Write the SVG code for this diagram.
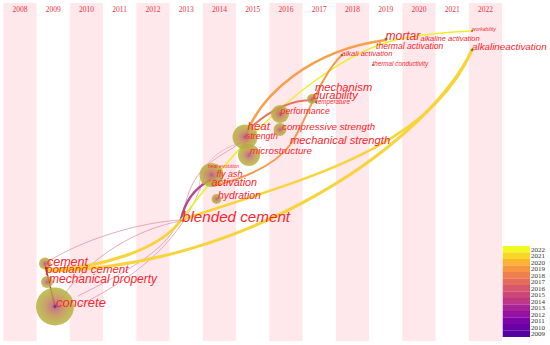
<svg xmlns="http://www.w3.org/2000/svg" width="550" height="345" viewBox="0 0 550 345">
<style>
.st{fill:#ffe8eb}
.yr{font-family:"Liberation Serif",serif;font-size:7.5px;fill:#e8303f;text-anchor:middle}
.lb{font-family:"Liberation Sans",Arial,sans-serif;font-style:italic;fill:#f8262e}
.nd{fill:url(#ring);opacity:0.85}
.dot{fill:#7a8a2a}
.cn{fill:none;stroke-linecap:round}
.lg{font-family:"Liberation Serif",serif;font-size:7px;fill:#333}
</style>
<defs>
<radialGradient id="ring" cx="0.5" cy="0.5" r="0.5">
<stop offset="0" stop-color="#a0407a"/>
<stop offset="0.2" stop-color="#c06a68"/>
<stop offset="0.5" stop-color="#c09050"/>
<stop offset="0.8" stop-color="#b8aa42"/>
<stop offset="1" stop-color="#b5b53c"/>
</radialGradient>
</defs>
<rect width="550" height="345" fill="#ffffff"/>
<g id="stripes">
<rect class="st" x="3.3" y="3" width="33.25" height="338"/>
<rect class="st" x="69.8" y="3" width="33.25" height="338"/>
<rect class="st" x="136.3" y="3" width="33.25" height="338"/>
<rect class="st" x="202.8" y="3" width="33.25" height="338"/>
<rect class="st" x="269.3" y="3" width="33.25" height="338"/>
<rect class="st" x="335.8" y="3" width="33.25" height="338"/>
<rect class="st" x="402.3" y="3" width="33.25" height="338"/>
<rect class="st" x="468.8" y="3" width="33.25" height="338"/>
</g>
<g id="years">
<text class="yr" x="19.9" y="12">2008</text>
<text class="yr" x="53.2" y="12">2009</text>
<text class="yr" x="86.4" y="12">2010</text>
<text class="yr" x="119.7" y="12">2011</text>
<text class="yr" x="152.9" y="12">2012</text>
<text class="yr" x="186.2" y="12">2013</text>
<text class="yr" x="219.4" y="12">2014</text>
<text class="yr" x="252.7" y="12">2015</text>
<text class="yr" x="285.9" y="12">2016</text>
<text class="yr" x="319.2" y="12">2017</text>
<text class="yr" x="352.4" y="12">2018</text>
<text class="yr" x="385.7" y="12">2019</text>
<text class="yr" x="418.9" y="12">2020</text>
<text class="yr" x="452.2" y="12">2021</text>
<text class="yr" x="485.4" y="12">2022</text>
</g>
<g id="connectors">
<path class="cn" d="M44 264 C80 240 140 222 181 220" stroke="#d98aa5" stroke-width="0.7"/>
<path class="cn" d="M62 298 C90 255 140 228 181 221" stroke="#d98aa5" stroke-width="0.7"/>
<path class="cn" d="M78 296 C140 265 175 245 185 205 S215 160 242 142" stroke="#d98aa5" stroke-width="0.7"/>
<path class="cn" d="M80 305 C150 270 190 230 207 168" stroke="#d98aa5" stroke-width="0.7"/>
<path class="cn" d="M200 190 C196 170 215 150 240 143" stroke="#e0a0b0" stroke-width="0.6"/>
<path class="cn" d="M46 270 C100 268 160 250 181 220" stroke="#f8d43a" stroke-width="3"/>
<path class="cn" d="M47 271 C250 268 430 140 472 50" stroke="#f8d43a" stroke-width="3"/>
<path class="cn" d="M181 220 C300 180 430 150 472 50" stroke="#f8d43a" stroke-width="2.5"/>
<path class="cn" d="M181 220 C185 200 195 188 210 180" stroke="#b8488a" stroke-width="2.5"/>
<path class="cn" d="M181 220 C215 175 260 120 316 80 S400 35 472 31" stroke="#f0ee2a" stroke-width="1.5"/>
<path class="cn" d="M245 137 C260 95 310 50 386 40" stroke="#f7a04c" stroke-width="2.5"/>
<path class="cn" d="M213 186 C245 178 275 165 290 145 S320 75 342 55" stroke="#f59a4c" stroke-width="2"/>
<path class="cn" d="M250 128 C268 112 290 100 312 100" stroke="#e6735c" stroke-width="1.8"/>
<path class="cn" d="M45 265 C50 285 52 295 55 306" stroke="#9a4058" stroke-width="1.5"/>
</g>
<g id="concrete"><circle class="nd" cx="55" cy="306.5" r="19"/><circle cx="55" cy="306.5" r="1.5" fill="#7030a0"/><text class="lb" x="56" y="307" font-size="13">concrete</text></g>
<g id="cement"><circle class="nd" cx="45" cy="263.5" r="6"/><circle cx="46" cy="268" r="1.2" fill="#c02030"/><text class="lb" x="47" y="265.5" font-size="12.5">cement</text></g>
<g id="portland-cement"><text class="lb" x="46" y="272.5" font-size="11.5">portland cement</text></g>
<g id="mechanical-property"><circle class="nd" cx="47" cy="282" r="6"/><text class="lb" x="49" y="282.7" font-size="12">mechanical property</text></g>
<g id="blended-cement"><text class="lb" x="182" y="222" font-size="15.2">blended cement</text></g>
<g id="fly-ash"><circle class="nd" cx="211.5" cy="175" r="12"/><text class="lb" x="216.5" y="177" font-size="9">fly ash</text></g>
<g id="heat-evolution"><text class="lb" x="208" y="167.5" font-size="5">heat evolution</text></g>
<g id="activation"><text class="lb" x="211.5" y="185.5" font-size="10.8">activation</text></g>
<g id="hydration"><circle class="nd" cx="216.5" cy="199" r="5"/><text class="lb" x="218" y="198.5" font-size="10.4">hydration</text></g>
<g id="microstructure"><circle class="nd" cx="249" cy="155" r="11"/><text class="lb" x="250" y="153.5" font-size="9.8">microstructure</text></g>
<g id="heat"><circle class="nd" cx="245" cy="137" r="12.5"/><text class="lb" x="247.5" y="130" font-size="11.5">heat</text></g>
<g id="strength"><text class="lb" x="246" y="138.5" font-size="8.8">strength</text></g>
<g id="performance"><circle class="nd" cx="280" cy="114" r="9"/><text class="lb" x="280.5" y="113.5" font-size="8.8">performance</text></g>
<g id="compressive-strength"><circle class="nd" cx="280" cy="129.5" r="6.5"/><text class="lb" x="282" y="129.5" font-size="9.8">compressive strength</text></g>
<g id="mechanical-strength"><text class="lb" x="290" y="143.5" font-size="11.2">mechanical strength</text></g>
<g id="mechanism"><text class="lb" x="315" y="91" font-size="11.2">mechanism</text></g>
<g id="durability"><circle class="nd" cx="312" cy="99" r="5"/><text class="lb" x="313" y="98.5" font-size="11.2">durability</text></g>
<g id="temperature"><circle class="dot" cx="316" cy="102" r="1.2"/><text class="lb" x="316" y="103.5" font-size="6.3">temperature</text></g>
<g id="mortar"><circle class="dot" cx="386" cy="39" r="1.5"/><text class="lb" x="385.5" y="40" font-size="12">mortar</text></g>
<g id="alkaline-activation"><text class="lb" x="420.5" y="40.5" font-size="7.5">alkaline activation</text></g>
<g id="thermal-activation"><text class="lb" x="376" y="48.5" font-size="8.6">thermal activation</text></g>
<g id="alkali-activation"><circle class="dot" cx="342" cy="55" r="1.3"/><text class="lb" x="341.5" y="56" font-size="7.5">alkali activation</text></g>
<g id="thermal-conductivity"><circle class="dot" cx="373" cy="65" r="1"/><text class="lb" x="372.5" y="66" font-size="6.3">thermal conductivity</text></g>
<g id="workability"><circle class="dot" cx="472" cy="31" r="1"/><text class="lb" x="472" y="31" font-size="5.1">workability</text></g>
<g id="alkalineactivation"><circle class="dot" cx="472" cy="50" r="1.3"/><text class="lb" x="472" y="49.5" font-size="9.8">alkalineactivation</text></g>
<g id="legend">
<rect x="502.7" y="246" width="27.3" height="6.6" fill="#f0f921"/>
<rect x="502.7" y="252.5" width="27.3" height="6.6" fill="#fad626"/>
<rect x="502.7" y="259" width="27.3" height="6.6" fill="#fcb232"/>
<rect x="502.7" y="265.5" width="27.3" height="6.6" fill="#f89540"/>
<rect x="502.7" y="272" width="27.3" height="6.6" fill="#f07f4f"/>
<rect x="502.7" y="278.5" width="27.3" height="6.6" fill="#e56b5d"/>
<rect x="502.7" y="285" width="27.3" height="6.6" fill="#d8576b"/>
<rect x="502.7" y="291.5" width="27.3" height="6.6" fill="#cc4778"/>
<rect x="502.7" y="298" width="27.3" height="6.6" fill="#bd3786"/>
<rect x="502.7" y="304.5" width="27.3" height="6.6" fill="#aa2395"/>
<rect x="502.7" y="311" width="27.3" height="6.6" fill="#9511a1"/>
<rect x="502.7" y="317.5" width="27.3" height="6.6" fill="#7e03a8"/>
<rect x="502.7" y="324" width="27.3" height="6.6" fill="#6a00a8"/>
<rect x="502.7" y="330.5" width="27.3" height="6.5" fill="#5402a3"/>
<text class="lg" x="531" y="251.5">2022</text>
<text class="lg" x="531" y="258">2021</text>
<text class="lg" x="531" y="264.5">2020</text>
<text class="lg" x="531" y="271">2019</text>
<text class="lg" x="531" y="277.5">2018</text>
<text class="lg" x="531" y="284">2017</text>
<text class="lg" x="531" y="290.5">2016</text>
<text class="lg" x="531" y="297">2015</text>
<text class="lg" x="531" y="303.5">2014</text>
<text class="lg" x="531" y="310">2013</text>
<text class="lg" x="531" y="316.5">2012</text>
<text class="lg" x="531" y="323">2011</text>
<text class="lg" x="531" y="329.5">2010</text>
<text class="lg" x="531" y="336">2009</text>
</g>
</svg>
